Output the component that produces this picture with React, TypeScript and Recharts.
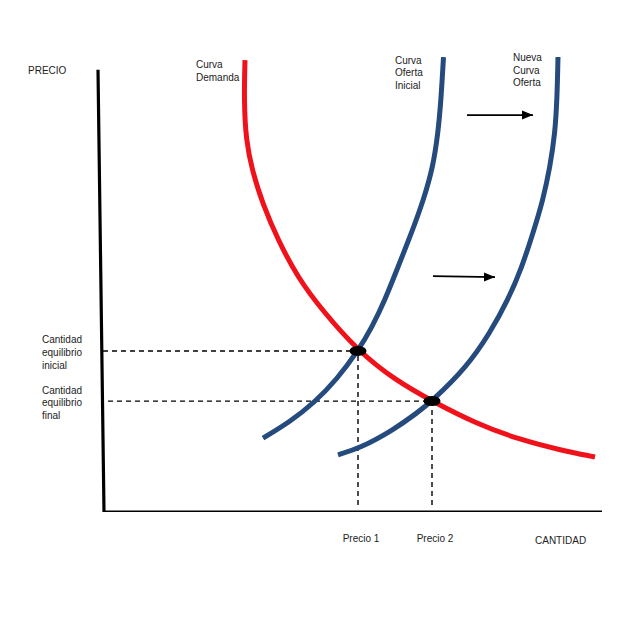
import React from 'react';
import { ComposedChart, Line, Scatter, XAxis, YAxis } from 'recharts';

// quantity (q) on the horizontal, price (p) on the vertical
const demand = [
  { q: 2.8, p: 10.27 },
  { q: 2.78, p: 9.36 },
  { q: 2.82, p: 8.45 },
  { q: 2.94, p: 7.77 },
  { q: 3.16, p: 6.98 },
  { q: 3.46, p: 6.18 },
  { q: 3.86, p: 5.32 },
  { q: 4.34, p: 4.59 },
  { q: 5.06, p: 3.66 },
  { q: 5.8, p: 3.0 },
  { q: 6.54, p: 2.52 },
  { q: 7.4, p: 2.02 },
  { q: 8.3, p: 1.64 },
  { q: 9.1, p: 1.41 },
  { q: 9.8, p: 1.25 },
];

const supplyInitial = [
  { q: 3.16, p: 1.68 },
  { q: 3.7, p: 2.05 },
  { q: 4.2, p: 2.5 },
  { q: 4.64, p: 3.02 },
  { q: 5.06, p: 3.66 },
  { q: 5.34, p: 4.2 },
  { q: 5.6, p: 4.82 },
  { q: 5.86, p: 5.57 },
  { q: 6.13, p: 6.34 },
  { q: 6.37, p: 7.09 },
  { q: 6.56, p: 7.84 },
  { q: 6.66, p: 8.61 },
  { q: 6.72, p: 9.36 },
  { q: 6.77, p: 10.34 },
];

const supplyNew = [
  { q: 4.66, p: 1.3 },
  { q: 5.1, p: 1.45 },
  { q: 5.76, p: 1.86 },
  { q: 6.24, p: 2.25 },
  { q: 6.54, p: 2.52 },
  { q: 7.24, p: 3.3 },
  { q: 7.7, p: 4.07 },
  { q: 8.06, p: 4.82 },
  { q: 8.34, p: 5.57 },
  { q: 8.56, p: 6.34 },
  { q: 8.76, p: 7.09 },
  { q: 8.9, p: 7.84 },
  { q: 9.0, p: 8.61 },
  { q: 9.04, p: 9.36 },
  { q: 9.06, p: 10.34 },
];

const equilibria = [
  { q: 5.06, p: 3.66 },
  { q: 6.54, p: 2.52 },
];

// where the dashed guides start on each axis
const guideStartQ = [-0.04, 0.06];
const guideStartP = 0.16;

const axisFrame = [
  { q: -0.14, p: 10.05 },
  { q: -0.02, p: 0 },
  { q: 9.94, p: 0 },
];

const shiftArrows = [
  [{ q: 7.24, p: 9.02 }, { q: 8.56, p: 9.02 }],
  [{ q: 6.56, p: 5.36 }, { q: 7.8, p: 5.34 }],
];

const priceLabels = ['Precio 1', 'Precio 2'];
const quantityLabels = [
  ['Cantidad', 'equilibrio', 'inicial'],
  ['Cantidad', 'equilibrio', 'final'],
];

const RED = '#f0121b';
const BLUE = '#254a7d';
const TEXT = '#222';
const FONT = '"Liberation Sans", Arial, sans-serif';

const PriceTick = (props: any) => {
  const { x, y, index } = props;
  return (
    <text x={x + 3} y={y + 28} textAnchor="middle" fontSize={10} fill={TEXT} fontFamily={FONT}>
      {priceLabels[index]}
    </text>
  );
};

const QuantityTick = (props: any) => {
  const { y, index } = props;
  const lines = quantityLabels[index] || [];
  return (
    <text x={42} y={y - 7.5} textAnchor="start" fontSize={10} fill={TEXT} fontFamily={FONT}>
      {lines.map((l, i) => (
        <tspan key={i} x={42} dy={i === 0 ? 0 : 12.8}>
          {l}
        </tspan>
      ))}
    </text>
  );
};

const Dot = (props: any) => <ellipse cx={props.cx} cy={props.cy} rx={8.5} ry={5} fill="#000" />;

const Head = (props: any) => {
  const { cx, cy } = props;
  return <polygon points={`${cx},${cy} ${cx - 11},${cy - 4.5} ${cx - 11},${cy + 4.5}`} fill="#000" />;
};

const txt = { fontSize: 10, fill: TEXT, fontFamily: FONT } as const;

export default function App() {
  return (
    <div style={{ position: 'absolute', left: 0, top: 0, background: '#fff' }}>
      <ComposedChart width={640} height={640} margin={{ top: 50, right: 35, bottom: 98, left: 35 }}>
        <XAxis
          type="number"
          dataKey="q"
          domain={[-0.2, 10]}
          ticks={equilibria.map((e) => e.q)}
          tick={<PriceTick />}
          axisLine={false}
          tickLine={false}
          tickSize={0}
          height={30}
          allowDataOverflow
        />
        <YAxis
          type="number"
          dataKey="p"
          domain={[0, 10.5]}
          ticks={equilibria.map((e) => e.p)}
          tick={<QuantityTick />}
          axisLine={false}
          tickLine={false}
          tickSize={0}
          width={60}
          allowDataOverflow
        />

        <Line data={axisFrame} dataKey="p" type="linear" stroke="#000" strokeWidth={3.2} dot={false} isAnimationActive={false} />

        {equilibria.map((e, i) => (
          <Line
            key={`h${i}`}
            data={[{ q: guideStartQ[i], p: e.p }, e]}
            dataKey="p"
            type="linear"
            stroke="#000"
            strokeWidth={1.4}
            strokeDasharray="5 4"
            dot={false}
            isAnimationActive={false}
          />
        ))}
        {equilibria.map((e, i) => (
          <Line
            key={`v${i}`}
            data={[{ q: e.q, p: guideStartP }, e]}
            dataKey="p"
            type="linear"
            stroke="#000"
            strokeWidth={1.4}
            strokeDasharray="5 4"
            dot={false}
            isAnimationActive={false}
          />
        ))}

        <Line data={supplyInitial} dataKey="p" type="basis" stroke={BLUE} strokeWidth={5} dot={false} isAnimationActive={false} />
        <Line data={supplyNew} dataKey="p" type="basis" stroke={BLUE} strokeWidth={5} dot={false} isAnimationActive={false} />
        <Line data={demand} dataKey="p" type="basis" stroke={RED} strokeWidth={5} dot={false} isAnimationActive={false} />

        {shiftArrows.map((a, i) => (
          <Line key={`a${i}`} data={a} dataKey="p" type="linear" stroke="#000" strokeWidth={1.8} dot={false} isAnimationActive={false} />
        ))}
        <Scatter data={shiftArrows.map((a) => a[1])} dataKey="p" shape={<Head />} isAnimationActive={false} />
        <Scatter data={equilibria} dataKey="p" shape={<Dot />} isAnimationActive={false} />

        <text x={28} y={74} {...txt}>PRECIO</text>
        <text x={535} y={544} {...txt}>CANTIDAD</text>
        <text {...txt}>
          <tspan x={196} y={67.5}>Curva</tspan>
          <tspan x={196} y={80.5}>Demanda</tspan>
        </text>
        <text {...txt}>
          <tspan x={395} y={63.5}>Curva</tspan>
          <tspan x={395} y={76}>Oferta</tspan>
          <tspan x={395} y={88.5}>Inicial</tspan>
        </text>
        <text {...txt}>
          <tspan x={513} y={61}>Nueva</tspan>
          <tspan x={513} y={73.5}>Curva</tspan>
          <tspan x={513} y={86}>Oferta</tspan>
        </text>
      </ComposedChart>
    </div>
  );
}
